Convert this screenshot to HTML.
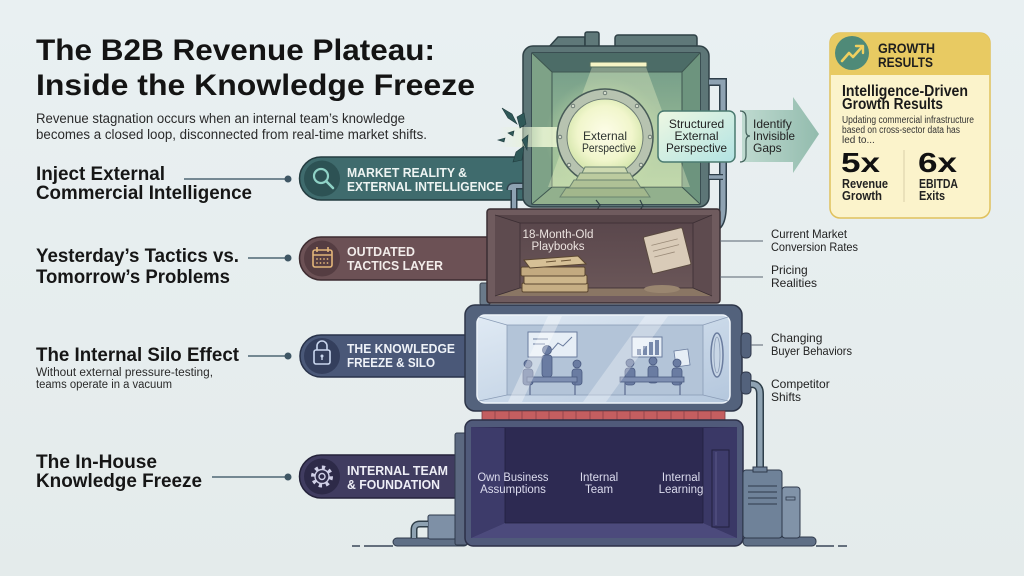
<!DOCTYPE html>
<html><head><meta charset="utf-8">
<style>
html,body{margin:0;padding:0;background:#e8eef0;width:1024px;height:576px;overflow:hidden;}
svg{display:block;}
text{font-family:"Liberation Sans",Arial,sans-serif;}
</style></head><body>
<svg width="1024" height="576" viewBox="0 0 1024 576" xmlns="http://www.w3.org/2000/svg">
<defs>
 <linearGradient id="bg" x1="0" y1="0" x2="0" y2="1"><stop offset="0" stop-color="#e9f0f2"/><stop offset="1" stop-color="#e4ebeb"/></linearGradient>
 <radialGradient id="glow" cx="0.5" cy="0.45" r="0.55"><stop offset="0" stop-color="#fdfde8"/><stop offset="0.65" stop-color="#f1f6cc"/><stop offset="1" stop-color="#d3e5ab"/></radialGradient>
 <radialGradient id="halo" cx="0.5" cy="0.5" r="0.5"><stop offset="0" stop-color="#f4f8d0" stop-opacity="0.9"/><stop offset="1" stop-color="#c8e0a8" stop-opacity="0"/></radialGradient>
 <linearGradient id="backwall" x1="0" y1="0" x2="0" y2="1"><stop offset="0" stop-color="#78a08a"/><stop offset="1" stop-color="#a9c99c"/></linearGradient>
 <linearGradient id="arrowg" x1="0" y1="0" x2="1" y2="0"><stop offset="0" stop-color="#bfdad0"/><stop offset="1" stop-color="#92bbad"/></linearGradient>
 <linearGradient id="structg" x1="0" y1="0" x2="1" y2="1"><stop offset="0" stop-color="#eef8e2"/><stop offset="1" stop-color="#b2e3e3"/></linearGradient>
 <linearGradient id="glass" x1="0" y1="0" x2="1" y2="1"><stop offset="0" stop-color="#e0eaf4"/><stop offset="1" stop-color="#b4c7dd"/></linearGradient>
 <linearGradient id="beam" x1="0" y1="0" x2="1" y2="0"><stop offset="0" stop-color="#e6f2d0" stop-opacity="0"/><stop offset="0.5" stop-color="#e8f4d2" stop-opacity="0.9"/><stop offset="1" stop-color="#f4f8d8" stop-opacity="0.9"/></linearGradient>
 <linearGradient id="brownwall" x1="0" y1="0" x2="0" y2="1"><stop offset="0" stop-color="#5a474c"/><stop offset="1" stop-color="#6a5658"/></linearGradient>
</defs>
<rect width="1024" height="576" fill="url(#bg)"/>

<!-- ===== Left text ===== -->
<text x="36" y="60" font-size="30" font-weight="bold" fill="#141414" textLength="399" lengthAdjust="spacingAndGlyphs">The B2B Revenue Plateau:</text>
<text x="36" y="95" font-size="30" font-weight="bold" fill="#141414" textLength="439" lengthAdjust="spacingAndGlyphs">Inside the Knowledge Freeze</text>
<text x="36" y="123" font-size="13.5" fill="#2a2a2a" textLength="369" lengthAdjust="spacingAndGlyphs">Revenue stagnation occurs when an internal team’s knowledge</text>
<text x="36" y="139" font-size="13.5" fill="#2a2a2a" textLength="391" lengthAdjust="spacingAndGlyphs">becomes a closed loop, disconnected from real-time market shifts.</text>

<text x="36" y="180" font-size="19" font-weight="bold" fill="#161616" textLength="129" lengthAdjust="spacingAndGlyphs">Inject External</text>
<text x="36" y="199" font-size="19" font-weight="bold" fill="#161616" textLength="216" lengthAdjust="spacingAndGlyphs">Commercial Intelligence</text>
<text x="36" y="262" font-size="19" font-weight="bold" fill="#161616" textLength="203" lengthAdjust="spacingAndGlyphs">Yesterday’s Tactics vs.</text>
<text x="36" y="283" font-size="19" font-weight="bold" fill="#161616" textLength="194" lengthAdjust="spacingAndGlyphs">Tomorrow’s Problems</text>
<text x="36" y="361" font-size="19" font-weight="bold" fill="#161616" textLength="203" lengthAdjust="spacingAndGlyphs">The Internal Silo Effect</text>
<text x="36" y="376" font-size="11.5" fill="#2a2a2a" textLength="177" lengthAdjust="spacingAndGlyphs">Without external pressure-testing,</text>
<text x="36" y="388" font-size="11.5" fill="#2a2a2a" textLength="136" lengthAdjust="spacingAndGlyphs">teams operate in a vacuum</text>
<text x="36" y="468" font-size="19" font-weight="bold" fill="#161616" textLength="121" lengthAdjust="spacingAndGlyphs">The In-House</text>
<text x="36" y="487" font-size="19" font-weight="bold" fill="#161616" textLength="166" lengthAdjust="spacingAndGlyphs">Knowledge Freeze</text>

<!-- connectors -->
<g stroke="#4f6674" stroke-width="1.5">
 <line x1="184" y1="179" x2="288" y2="179"/>
 <line x1="248" y1="258" x2="288" y2="258"/>
 <line x1="248" y1="356" x2="288" y2="356"/>
 <line x1="212" y1="477" x2="288" y2="477"/>
</g>
<g fill="#3f5664">
 <circle cx="288" cy="179" r="3.5"/><circle cx="288" cy="258" r="3.5"/>
 <circle cx="288" cy="356" r="3.5"/><circle cx="288" cy="477" r="3.5"/>
</g>

<!-- ===== Pills ===== -->
<!-- pill 1 -->
<path d="M321,157 H526 V200 H321 A21.5,21.5 0 0 1 321,157 Z" fill="#3f6b6d" stroke="#243c40" stroke-width="1.5"/>
<circle cx="322" cy="178.5" r="18" fill="#2d5254"/>
<circle cx="321" cy="176" r="7" fill="none" stroke="#8fd2c6" stroke-width="2.2"/>
<line x1="326" y1="181" x2="333" y2="188" stroke="#8fd2c6" stroke-width="2.6" stroke-linecap="round"/>
<text x="347" y="177" font-size="12.5" font-weight="bold" fill="#eef4f2" textLength="120" lengthAdjust="spacingAndGlyphs">MARKET REALITY &amp;</text>
<text x="347" y="191" font-size="12.5" font-weight="bold" fill="#eef4f2" textLength="156" lengthAdjust="spacingAndGlyphs">EXTERNAL INTELLIGENCE</text>

<!-- pill 2 -->
<path d="M321,237 H490 V280 H321 A21.5,21.5 0 0 1 321,237 Z" fill="#6c5155" stroke="#3d2b30" stroke-width="1.5"/>
<circle cx="322" cy="258.5" r="18" fill="#553d42"/>
<g stroke="#e2b579" stroke-width="1.6" fill="none">
 <rect x="313" y="250" width="19" height="17" rx="2"/>
 <line x1="313" y1="255" x2="332" y2="255"/>
 <line x1="317" y1="247" x2="317" y2="252"/><line x1="328" y1="247" x2="328" y2="252"/>
</g>
<g fill="#e2b579"><circle cx="317" cy="259" r="0.9"/><circle cx="320.5" cy="259" r="0.9"/><circle cx="324" cy="259" r="0.9"/><circle cx="327.5" cy="259" r="0.9"/><circle cx="317" cy="263" r="0.9"/><circle cx="320.5" cy="263" r="0.9"/><circle cx="324" cy="263" r="0.9"/><circle cx="327.5" cy="263" r="0.9"/></g>
<text x="347" y="256" font-size="12.5" font-weight="bold" fill="#f2ecea" textLength="68" lengthAdjust="spacingAndGlyphs">OUTDATED</text>
<text x="347" y="270" font-size="12.5" font-weight="bold" fill="#f2ecea" textLength="96" lengthAdjust="spacingAndGlyphs">TACTICS LAYER</text>

<!-- pill 3 -->
<path d="M321,335 H468 V377 H321 A21,21 0 0 1 321,335 Z" fill="#4a5878" stroke="#28324a" stroke-width="1.5"/>
<circle cx="322" cy="356" r="18" fill="#343f5d"/>
<g stroke="#c9d6ee" stroke-width="1.6" fill="none">
 <path d="M317,350 V346 A5,5 0 0 1 327,346 V350"/>
 <rect x="314" y="350" width="16" height="14" rx="2"/>
</g>
<circle cx="322" cy="356" r="1.5" fill="#c9d6ee"/><line x1="322" y1="356" x2="322" y2="360" stroke="#c9d6ee" stroke-width="1.4"/>
<text x="347" y="353" font-size="12.5" font-weight="bold" fill="#eef2f8" textLength="108" lengthAdjust="spacingAndGlyphs">THE KNOWLEDGE</text>
<text x="347" y="367" font-size="12.5" font-weight="bold" fill="#eef2f8" textLength="88" lengthAdjust="spacingAndGlyphs">FREEZE &amp; SILO</text>

<!-- pill 4 -->
<path d="M321,455 H468 V498 H321 A21.5,21.5 0 0 1 321,455 Z" fill="#403c60" stroke="#24223a" stroke-width="1.5"/>
<circle cx="322" cy="476.5" r="18" fill="#2d2a48"/>
<circle cx="322" cy="476.5" r="9" fill="none" stroke="#cfcfe6" stroke-width="4" stroke-dasharray="3.2 3.8"/>
<circle cx="322" cy="476.5" r="7" fill="#2d2a48" stroke="#cfcfe6" stroke-width="1.4"/>
<circle cx="322" cy="476.5" r="3" fill="none" stroke="#cfcfe6" stroke-width="1.4"/>
<text x="347" y="475" font-size="12.5" font-weight="bold" fill="#eeeef6" textLength="101" lengthAdjust="spacingAndGlyphs">INTERNAL TEAM</text>
<text x="347" y="489" font-size="12.5" font-weight="bold" fill="#eeeef6" textLength="93" lengthAdjust="spacingAndGlyphs">&amp; FOUNDATION</text>

<!-- ===== Top vault (green) ===== -->
<path d="M510,190 Q510,186 514,186 H524 M514,186 V212" fill="none" stroke="#2f3f4a" stroke-width="7"/>
<path d="M510,190 Q510,186 514,186 H524 M514,186 V212" fill="none" stroke="#8ea2b2" stroke-width="4"/>
<g stroke="#2f4146" stroke-width="1.5" stroke-linejoin="round">
 <path d="M548,48 L558,37 L585,37 L585,48 Z" fill="#5f7879"/>
 <rect x="585" y="32" width="14" height="16" rx="2" fill="#5f7879"/>
 <rect x="615" y="35" width="82" height="14" rx="3" fill="#5f7879"/>
 <rect x="523" y="46" width="186" height="161" rx="10" fill="#5d7677"/>
 <rect x="532" y="53" width="168" height="151" fill="#3f5a5c"/>
</g>
<polygon points="532,53 700,53 682,72 552,72" fill="#4c6c67"/>
<polygon points="532,53 552,72 552,187 532,204" fill="#7ea287"/>
<polygon points="700,53 682,72 682,187 700,204" fill="#6d947e"/>
<rect x="552" y="72" width="130" height="115" fill="url(#backwall)"/>
<polygon points="552,187 682,187 700,204 532,204" fill="#92b08d"/>
<g stroke="#3e5650" stroke-width="1" fill="none">
 <line x1="532" y1="53" x2="552" y2="72"/><line x1="700" y1="53" x2="682" y2="72"/>
 <line x1="532" y1="204" x2="552" y2="187"/><line x1="700" y1="204" x2="682" y2="187"/>
 <rect x="552" y="72" width="130" height="115"/>
</g>
<polygon points="592,67 646,67 690,187 548,187" fill="#f2f6c8" opacity="0.35"/>
<rect x="590" y="62" width="57" height="5" rx="1" fill="#f7f5c6" stroke="#56705f" stroke-width="1"/>
<!-- beam to left -->
<rect x="498" y="127" width="90" height="20" fill="url(#beam)"/>
<!-- porthole -->
<circle cx="605" cy="137" r="60" fill="url(#halo)"/>
<circle cx="605" cy="137" r="48" fill="#b7c3b0" stroke="#485b57" stroke-width="1.5"/>
<circle cx="605" cy="137" r="38" fill="url(#glow)" stroke="#6c7c74" stroke-width="1"/>
<g fill="#d5dccd" stroke="#5a6a64" stroke-width="0.8">
 <circle cx="605" cy="93" r="1.8"/><circle cx="573" cy="106" r="1.8"/><circle cx="637" cy="106" r="1.8"/>
 <circle cx="560" cy="137" r="1.8"/><circle cx="650" cy="137" r="1.8"/><circle cx="569" cy="165" r="1.8"/><circle cx="641" cy="165" r="1.8"/>
</g>
<g stroke="#6b8470" stroke-width="1">
 <polygon points="585,167 625,167 628,173 582,173" fill="#cdd9b0"/>
 <polygon points="580,173 630,173 634,180 576,180" fill="#bccb9f"/>
 <polygon points="574,180 636,180 641,188 569,188" fill="#afc196"/>
 <polygon points="566,188 644,188 650,197 560,197" fill="#a2b78c"/>
</g>
<text x="605" y="140" font-size="12" fill="#2e3430" text-anchor="middle">External</text>
<text x="609" y="152" font-size="12" fill="#2e3430" text-anchor="middle" textLength="54" lengthAdjust="spacingAndGlyphs">Perspective</text>
<!-- shards -->
<g fill="#2f5858" stroke="#203c3e" stroke-width="0.6">
 <polygon points="502,108 512,114 517,124 508,118"/>
 <polygon points="517,117 524,113 526,124 520,128"/>
 <polygon points="508,133 514,131 513,136"/>
 <polygon points="498,140 505,138 504,142"/>
 <polygon points="516,152 524,146 522,160 513,162"/>
 <polygon points="522,140 528,135 527,150"/>
</g>
<!-- crack into brown box -->
<path d="M596,200 L600,205 L597,210 M640,200 L643,206 L639,211" stroke="#2f4146" stroke-width="1.2" fill="none"/>

<!-- right pipe of top vault -->
<path d="M709,82 H723 V205 Q723,228 712,228" fill="none" stroke="#2f3f4a" stroke-width="8"/>
<path d="M709,82 H723 V205 Q723,228 712,228" fill="none" stroke="#8ea2b2" stroke-width="5"/>
<path d="M709,177 H723" stroke="#2f3f4a" stroke-width="6"/>
<path d="M709,177 H723" stroke="#8ea2b2" stroke-width="3.5"/>

<!-- Structured External Perspective -->
<rect x="658" y="111" width="77" height="51" rx="6" fill="url(#structg)" stroke="#4b7a70" stroke-width="1.5"/>
<text x="696.5" y="128" font-size="12" fill="#222" text-anchor="middle">Structured</text>
<text x="696.5" y="140" font-size="12" fill="#222" text-anchor="middle">External</text>
<text x="696.5" y="152" font-size="12" fill="#222" text-anchor="middle" textLength="61" lengthAdjust="spacingAndGlyphs">Perspective</text>

<!-- arrow -->
<polygon points="742,110 793,110 793,97 819,134 793,173 793,162 742,162" fill="url(#arrowg)"/>
<path d="M740,111 Q746,111 746,118 V131 Q746,136 750,136 Q746,136 746,141 V155 Q746,162 740,162" fill="none" stroke="#42605a" stroke-width="1.2"/>
<text x="753" y="128" font-size="12" fill="#222">Identify</text>
<text x="753" y="140" font-size="12" fill="#222" textLength="42" lengthAdjust="spacingAndGlyphs">Invisible</text>
<text x="753" y="152" font-size="12" fill="#222">Gaps</text>

<!-- ===== Growth card ===== -->
<rect x="830" y="33" width="160" height="185" rx="10" fill="#fbf3cb" stroke="#e0c15c" stroke-width="1.5"/>
<path d="M830,75 V43 A10,10 0 0 1 840,33 H980 A10,10 0 0 1 990,43 V75 Z" fill="#e8ca62"/>
<circle cx="852" cy="53" r="17" fill="#4f8a78"/>
<path d="M842,61 L849,53 L853,57 L862,47" fill="none" stroke="#f0d060" stroke-width="2.6" stroke-linejoin="round" stroke-linecap="round"/>
<path d="M856,46 L863,46 L863,53" fill="none" stroke="#f0d060" stroke-width="2.4" stroke-linecap="round" stroke-linejoin="round"/>
<text x="878" y="53" font-size="14" font-weight="bold" fill="#1e1e1e" textLength="57" lengthAdjust="spacingAndGlyphs">GROWTH</text>
<text x="878" y="67" font-size="14" font-weight="bold" fill="#1e1e1e" textLength="55" lengthAdjust="spacingAndGlyphs">RESULTS</text>
<text x="842" y="96" font-size="15.5" font-weight="bold" fill="#1a1a1a" textLength="126" lengthAdjust="spacingAndGlyphs">Intelligence-Driven</text>
<text x="842" y="109" font-size="15.5" font-weight="bold" fill="#1a1a1a" textLength="101" lengthAdjust="spacingAndGlyphs">Growth Results</text>
<text x="842" y="123" font-size="10" fill="#333" textLength="132" lengthAdjust="spacingAndGlyphs">Updating commercial infrastructure</text>
<text x="842" y="133" font-size="10" fill="#333" textLength="118" lengthAdjust="spacingAndGlyphs">based on cross-sector data has</text>
<text x="842" y="143" font-size="10" fill="#333">led to...</text>
<text x="841" y="172" font-size="28" font-weight="bold" fill="#111" textLength="39" lengthAdjust="spacingAndGlyphs">5x</text>
<text x="918" y="172" font-size="28" font-weight="bold" fill="#111" textLength="39" lengthAdjust="spacingAndGlyphs">6x</text>
<line x1="904" y1="150" x2="904" y2="202" stroke="#d8cfa8" stroke-width="1"/>
<text x="842" y="188" font-size="12.5" font-weight="bold" fill="#222" textLength="46" lengthAdjust="spacingAndGlyphs">Revenue</text>
<text x="842" y="200" font-size="12.5" font-weight="bold" fill="#222" textLength="40" lengthAdjust="spacingAndGlyphs">Growth</text>
<text x="919" y="188" font-size="12.5" font-weight="bold" fill="#222" textLength="39" lengthAdjust="spacingAndGlyphs">EBITDA</text>
<text x="919" y="200" font-size="12.5" font-weight="bold" fill="#222" textLength="26" lengthAdjust="spacingAndGlyphs">Exits</text>

<!-- ===== Brown box ===== -->
<rect x="480" y="283" width="10" height="22" rx="2" fill="#6a7a8a" stroke="#3a4450" stroke-width="1"/>
<rect x="487" y="209" width="233" height="94" rx="3" fill="#6f5b5e" stroke="#3a2e33" stroke-width="1.5"/>
<rect x="495" y="215" width="217" height="81" fill="#4d3d42"/>
<polygon points="495,215 712,215 693,223 520,223" fill="#574549"/>
<polygon points="495,215 520,223 520,288 495,296" fill="#5e4b4f"/>
<polygon points="712,215 693,223 693,288 712,296" fill="#5e4b4f"/>
<rect x="520" y="223" width="173" height="65" fill="url(#brownwall)"/>
<polygon points="520,288 693,288 712,296 495,296" fill="#8a7664"/>
<g stroke="#3b2e33" stroke-width="0.8" fill="none"><rect x="520" y="223" width="173" height="65"/><line x1="495" y1="215" x2="520" y2="223"/><line x1="712" y1="215" x2="693" y2="223"/><line x1="495" y1="296" x2="520" y2="288"/><line x1="712" y1="296" x2="693" y2="288"/></g>
<text x="558" y="238" font-size="11.5" fill="#ece4e0" text-anchor="middle" textLength="71" lengthAdjust="spacingAndGlyphs">18-Month-Old</text>
<text x="558" y="250" font-size="11.5" fill="#ece4e0" text-anchor="middle">Playbooks</text>
<!-- books -->
<g stroke="#5a4630" stroke-width="1">
 <rect x="522" y="283" width="66" height="9" rx="1.5" fill="#c6ae84"/>
 <rect x="524" y="275" width="63" height="9" rx="1.5" fill="#cdb68b"/>
 <rect x="521" y="267" width="64" height="9" rx="1.5" fill="#c3aa80"/>
 <polygon points="524,260 578,256 586,264 530,268" fill="#d6c096"/>
</g>
<line x1="546" y1="262" x2="556" y2="261" stroke="#6a5436" stroke-width="1"/>
<line x1="561" y1="261" x2="571" y2="260" stroke="#6a5436" stroke-width="1"/>
<!-- paper -->
<g transform="rotate(-14 666 250)">
 <rect x="647" y="232" width="40" height="38" rx="1.5" fill="#d9cbb8" stroke="#5a4a40" stroke-width="1"/>
 <g stroke="#9a8a78" stroke-width="0.8"><line x1="653" y1="242" x2="680" y2="242"/><line x1="653" y1="248" x2="680" y2="248"/><line x1="653" y1="254" x2="674" y2="254"/></g>
</g>
<ellipse cx="662" cy="289" rx="18" ry="4" fill="#9a8670"/>
<!-- brown labels -->
<g stroke="#5a6470" stroke-width="1"><line x1="720" y1="241" x2="763" y2="241"/><line x1="720" y1="277" x2="763" y2="277"/></g>
<text x="771" y="238" font-size="12" fill="#222" textLength="76" lengthAdjust="spacingAndGlyphs">Current Market</text>
<text x="771" y="251" font-size="12" fill="#222" textLength="87" lengthAdjust="spacingAndGlyphs">Conversion Rates</text>
<text x="771" y="274" font-size="12" fill="#222">Pricing</text>
<text x="771" y="287" font-size="12" fill="#222">Realities</text>

<!-- ===== Glass box ===== -->
<rect x="465" y="305" width="277" height="106" rx="10" fill="#53627c" stroke="#2d3548" stroke-width="1.5"/>
<rect x="477" y="315" width="253" height="88" rx="8" fill="url(#glass)" stroke="#eef4fa" stroke-width="1.5"/>
<rect x="507" y="325" width="196" height="70" fill="#b3c4d8" stroke="#8a9cb6" stroke-width="0.8"/>
<g stroke="#8a9cb6" stroke-width="0.8"><line x1="479" y1="317" x2="507" y2="325"/><line x1="728" y1="317" x2="703" y2="325"/><line x1="479" y1="401" x2="507" y2="395"/><line x1="728" y1="401" x2="703" y2="395"/></g>
<!-- boards -->
<rect x="528" y="332" width="49" height="25" fill="#e6eef6" stroke="#6a7c9e" stroke-width="1"/>
<g stroke="#6a7c9e" stroke-width="1" fill="none"><line x1="533" y1="339" x2="548" y2="339"/><line x1="533" y1="344" x2="545" y2="344"/><path d="M552,350 L558,343 L563,346 L572,337"/></g>
<rect x="632" y="337" width="30" height="20" fill="#e6eef6" stroke="#6a7c9e" stroke-width="1"/>
<g fill="#7789ab"><rect x="637" y="349" width="4" height="6"/><rect x="643" y="346" width="4" height="9"/><rect x="649" y="342" width="4" height="13"/><rect x="655" y="340" width="4" height="15"/></g>
<rect x="675" y="350" width="14" height="16" fill="#e6eef6" stroke="#6a7c9e" stroke-width="0.8" transform="rotate(-8 682 358)"/>
<!-- people -->
<g fill="#6a7ca2" stroke="#4a5a80" stroke-width="0.8">
 <circle cx="547" cy="350" r="4.5"/><rect x="542" y="355" width="10" height="22" rx="3"/>
 <circle cx="528" cy="364" r="4"/><rect x="523" y="369" width="10" height="16" rx="3"/>
 <circle cx="577" cy="364" r="4"/><rect x="572" y="369" width="10" height="16" rx="3"/>
 <rect x="527" y="377" width="50" height="5" fill="#7e8fb2"/>
 <circle cx="630" cy="363" r="4"/><rect x="625" y="368" width="10" height="17" rx="3"/>
 <circle cx="653" cy="361" r="4"/><rect x="648" y="366" width="10" height="17" rx="3"/>
 <circle cx="677" cy="363" r="4"/><rect x="672" y="368" width="10" height="17" rx="3"/>
 <rect x="620" y="377" width="64" height="5" fill="#7e8fb2"/>
</g>
<g stroke="#5a6a90" stroke-width="1.2"><line x1="530" y1="382" x2="530" y2="395"/><line x1="575" y1="382" x2="575" y2="395"/><line x1="625" y1="382" x2="625" y2="395"/><line x1="680" y1="382" x2="680" y2="395"/></g>
<!-- glare -->
<polygon points="548,316 562,316 522,402 508,402" fill="#ffffff" opacity="0.35"/>
<polygon points="645,316 668,316 606,402 583,402" fill="#ffffff" opacity="0.3"/>
<!-- oval porthole -->
<ellipse cx="717" cy="355" rx="6" ry="22" fill="#c8d6e6" stroke="#6a7c9e" stroke-width="1.5"/>
<ellipse cx="717" cy="355" rx="3" ry="18" fill="none" stroke="#8a9cb6" stroke-width="0.8"/>
<!-- knobs -->
<rect x="741" y="333" width="10" height="25" rx="4" fill="#53627c" stroke="#2d3548" stroke-width="1"/>
<rect x="741" y="372" width="10" height="22" rx="4" fill="#53627c" stroke="#2d3548" stroke-width="1"/>
<line x1="751" y1="345" x2="763" y2="345" stroke="#5a6470" stroke-width="1"/>
<!-- right pipe down -->
<path d="M751,384 Q760,384 760,394 V472" fill="none" stroke="#2f3f4a" stroke-width="8"/>
<path d="M751,384 Q760,384 760,394 V472" fill="none" stroke="#8ea2b2" stroke-width="5"/>
<text x="771" y="342" font-size="12" fill="#222">Changing</text>
<text x="771" y="355" font-size="12" fill="#222" textLength="81" lengthAdjust="spacingAndGlyphs">Buyer Behaviors</text>
<text x="771" y="388" font-size="12" fill="#222">Competitor</text>
<text x="771" y="401" font-size="12" fill="#222">Shifts</text>

<!-- red strip -->
<rect x="482" y="411" width="243" height="9" fill="#c45e60" stroke="#7a3a40" stroke-width="0.8"/>
<g stroke="#8a4048" stroke-width="0.8">
 <line x1="495" y1="411" x2="495" y2="420"/><line x1="509" y1="411" x2="509" y2="420"/><line x1="522" y1="411" x2="522" y2="420"/><line x1="536" y1="411" x2="536" y2="420"/><line x1="549" y1="411" x2="549" y2="420"/><line x1="563" y1="411" x2="563" y2="420"/><line x1="576" y1="411" x2="576" y2="420"/><line x1="590" y1="411" x2="590" y2="420"/><line x1="603" y1="411" x2="603" y2="420"/><line x1="617" y1="411" x2="617" y2="420"/><line x1="630" y1="411" x2="630" y2="420"/><line x1="644" y1="411" x2="644" y2="420"/><line x1="657" y1="411" x2="657" y2="420"/><line x1="671" y1="411" x2="671" y2="420"/><line x1="684" y1="411" x2="684" y2="420"/><line x1="698" y1="411" x2="698" y2="420"/><line x1="711" y1="411" x2="711" y2="420"/>
</g>

<!-- ===== Bottom box ===== -->
<!-- left machinery -->
<rect x="393" y="538" width="75" height="8" rx="4" fill="#5f6f86" stroke="#2f3a4c" stroke-width="1"/>
<rect x="428" y="515" width="28" height="24" rx="2" fill="#7e90a6" stroke="#2f3a4c" stroke-width="1"/>
<path d="M428,524 H420 Q414,524 414,530 V538" fill="none" stroke="#2f3f4a" stroke-width="7"/>
<path d="M428,524 H420 Q414,524 414,530 V538" fill="none" stroke="#8ea2b2" stroke-width="4"/>
<rect x="455" y="433" width="12" height="112" rx="2" fill="#5b6880" stroke="#2f3a4c" stroke-width="1"/>
<rect x="465" y="420" width="278" height="126" rx="8" fill="#505a7a" stroke="#2c3048" stroke-width="1.5"/>
<rect x="471" y="427" width="266" height="111" fill="#2f2c55"/>
<polygon points="471,427 505,428 505,523 471,538" fill="#3d3b6a"/>
<polygon points="737,427 703,428 703,523 737,538" fill="#3a3866"/>
<rect x="505" y="428" width="198" height="95" fill="#2d2a52"/>
<polygon points="505,523 703,523 737,538 471,538" fill="#4c4a7c"/>
<g stroke="#22203e" stroke-width="0.8" fill="none"><line x1="505" y1="428" x2="505" y2="523"/><line x1="703" y1="428" x2="703" y2="523"/><line x1="505" y1="523" x2="703" y2="523"/></g>
<rect x="712" y="450" width="17" height="77" fill="#3e3c6c" stroke="#22203e" stroke-width="1"/>
<line x1="716" y1="452" x2="716" y2="525" stroke="#5a5888" stroke-width="1"/>
<text x="513" y="481" font-size="11.5" fill="#dcdcee" text-anchor="middle" textLength="71" lengthAdjust="spacingAndGlyphs">Own Business</text>
<text x="513" y="493" font-size="11.5" fill="#dcdcee" text-anchor="middle">Assumptions</text>
<text x="599" y="481" font-size="11.5" fill="#dcdcee" text-anchor="middle">Internal</text>
<text x="599" y="493" font-size="11.5" fill="#dcdcee" text-anchor="middle">Team</text>
<text x="681" y="481" font-size="11.5" fill="#dcdcee" text-anchor="middle">Internal</text>
<text x="681" y="493" font-size="11.5" fill="#dcdcee" text-anchor="middle">Learning</text>

<!-- right machinery -->
<rect x="743" y="537" width="73" height="9" rx="4" fill="#5f6f86" stroke="#2f3a4c" stroke-width="1"/>
<rect x="782" y="487" width="18" height="51" rx="3" fill="#8193a8" stroke="#2f3a4c" stroke-width="1"/>
<rect x="743" y="470" width="39" height="68" rx="3" fill="#6f8299" stroke="#2f3a4c" stroke-width="1"/>
<rect x="753" y="467" width="14" height="5" fill="#6f8299" stroke="#2f3a4c" stroke-width="1"/>
<g stroke="#2f3a4c" stroke-width="1"><line x1="748" y1="486" x2="777" y2="486"/><line x1="748" y1="492" x2="777" y2="492"/><line x1="748" y1="498" x2="777" y2="498"/><line x1="748" y1="504" x2="777" y2="504"/></g>
<rect x="786" y="497" width="9" height="3" fill="none" stroke="#2f3a4c" stroke-width="0.8"/>

<!-- ground lines -->
<g stroke="#3a4658" stroke-width="1.5">
 <line x1="352" y1="546" x2="360" y2="546"/><line x1="364" y1="546" x2="393" y2="546"/>
 <line x1="816" y1="546" x2="834" y2="546"/><line x1="838" y1="546" x2="847" y2="546"/>
</g>
</svg>
</body></html>
